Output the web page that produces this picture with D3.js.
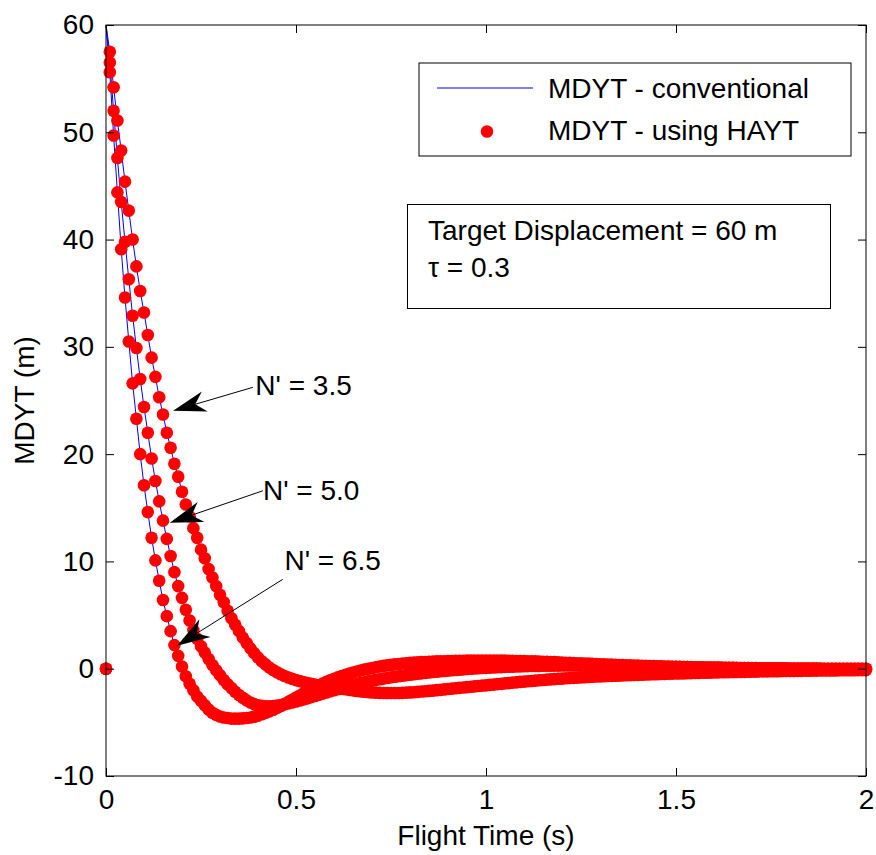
<!DOCTYPE html>
<html>
<head>
<meta charset="utf-8">
<script src="https://cdn.jsdelivr.net/npm/d3@7"></script>
<style>
  html, body { margin: 0; padding: 0; background: #ffffff; }
  svg { display: block; }
  text { font-family: "Liberation Sans", Arial, Helvetica, sans-serif; fill: #000; }
</style>
</head>
<body>
<svg id="chart" width="876" height="855"></svg>
<script>
// ---------------- DATA ----------------
const timeStep = 0.01;            // sampling interval of the simulations (s)
const xTicks = [0, 0.5, 1, 1.5, 2];
const xTickLabels = ["0", "0.5", "1", "1.5", "2"];
const yTicks = [-10, 0, 10, 20, 30, 40, 50, 60];
const yTickLabels = ["-10", "0", "10", "20", "30", "40", "50", "60"];
const initialMiss = 60;           // conventional miss distance at zero flight time

// MDYT using HAYT, N' = 3.5 (one value every 0.01 s, t = 0 .. 2 s)
const hayt35 = [0,
  57.5, 54.2, 51.1, 48.3, 45.4, 42.7, 40.0, 37.5, 35.2, 33.2,
  31.1, 29.0, 27.2, 25.3, 23.7, 22.0, 20.6, 19.1, 17.9, 16.5,
  15.3, 14.2, 13.1, 12.2, 11.1, 10.3, 9.3, 8.5, 7.7, 6.9,
  6.2, 5.4, 4.7, 4.1, 3.5, 2.9, 2.4, 1.9, 1.45, 1.05,
  0.7, 0.4, 0.12, -0.12, -0.33, -0.52, -0.68, -0.82, -0.95, -1.06,
  -1.16, -1.25, -1.33, -1.41, -1.48, -1.55, -1.61, -1.67, -1.72, -1.77,
  -1.82, -1.87, -1.92, -1.97, -2.02, -2.07, -2.11, -2.15, -2.18, -2.21,
  -2.23, -2.25, -2.26, -2.27, -2.27, -2.27, -2.26, -2.25, -2.23, -2.21,
  -2.19, -2.16, -2.13, -2.1, -2.07, -2.04, -2.0, -1.97, -1.93, -1.89,
  -1.86, -1.82, -1.79, -1.75, -1.72, -1.68, -1.65, -1.61, -1.58, -1.55,
  -1.51, -1.48, -1.44, -1.41, -1.37, -1.34, -1.3, -1.27, -1.23, -1.2,
  -1.17, -1.14, -1.11, -1.08, -1.05, -1.02, -0.99, -0.97, -0.94, -0.92,
  -0.89, -0.87, -0.85, -0.83, -0.81, -0.79, -0.77, -0.75, -0.73, -0.71,
  -0.7, -0.68, -0.67, -0.65, -0.64, -0.62, -0.61, -0.6, -0.58, -0.57,
  -0.56, -0.54, -0.53, -0.52, -0.51, -0.49, -0.48, -0.47, -0.46, -0.45,
  -0.44, -0.43, -0.42, -0.41, -0.4, -0.39, -0.38, -0.37, -0.36, -0.35,
  -0.34, -0.33, -0.33, -0.32, -0.31, -0.3, -0.3, -0.29, -0.28, -0.27,
  -0.27, -0.26, -0.25, -0.25, -0.24, -0.23, -0.23, -0.22, -0.22, -0.21,
  -0.21, -0.2, -0.2, -0.19, -0.19, -0.18, -0.18, -0.17, -0.17, -0.16,
  -0.16, -0.16, -0.15, -0.15, -0.14, -0.14, -0.14, -0.13, -0.13, -0.13];

// MDYT using HAYT, N' = 5.0
const hayt50 = [0,
  56.5, 52.0, 47.6, 43.5, 39.8, 36.3, 32.9, 29.9, 27.0, 24.4,
  22.0, 19.6, 17.5, 15.6, 13.8, 12.1, 10.5, 9.0, 7.7, 6.6,
  5.5, 4.5, 3.6, 2.8, 2.1, 1.5, 0.9, 0.35, -0.15, -0.6,
  -1.05, -1.45, -1.8, -2.15, -2.45, -2.7, -2.95, -3.15, -3.3, -3.4,
  -3.46, -3.5, -3.5, -3.48, -3.44, -3.38, -3.31, -3.23, -3.15, -3.06,
  -2.96, -2.86, -2.76, -2.65, -2.54, -2.43, -2.32, -2.21, -2.1, -2.0,
  -1.9, -1.8, -1.7, -1.6, -1.51, -1.42, -1.34, -1.26, -1.18, -1.11,
  -1.04, -0.98, -0.92, -0.86, -0.8, -0.75, -0.7, -0.65, -0.6, -0.56,
  -0.51, -0.47, -0.43, -0.39, -0.35, -0.31, -0.28, -0.24, -0.21, -0.18,
  -0.15, -0.12, -0.09, -0.06, -0.03, -0.01, 0.02, 0.04, 0.06, 0.08,
  0.1, 0.12, 0.14, 0.15, 0.17, 0.18, 0.19, 0.21, 0.22, 0.23,
  0.24, 0.25, 0.26, 0.26, 0.27, 0.28, 0.28, 0.29, 0.29, 0.3,
  0.3, 0.3, 0.3, 0.3, 0.3, 0.3, 0.3, 0.29, 0.29, 0.29,
  0.28, 0.28, 0.27, 0.27, 0.26, 0.26, 0.25, 0.25, 0.24, 0.24,
  0.23, 0.22, 0.22, 0.21, 0.2, 0.2, 0.19, 0.18, 0.18, 0.17,
  0.16, 0.16, 0.15, 0.14, 0.14, 0.13, 0.13, 0.12, 0.11, 0.11,
  0.1, 0.1, 0.09, 0.09, 0.08, 0.08, 0.07, 0.07, 0.06, 0.06,
  0.06, 0.05, 0.05, 0.04, 0.04, 0.04, 0.03, 0.03, 0.03, 0.02,
  0.02, 0.02, 0.02, 0.01, 0.01, 0.01, 0.01, 0.01, 0, 0,
  0, 0, 0, 0, 0, -0.01, -0.01, -0.01, -0.01, -0.01];

// MDYT using HAYT, N' = 6.5
const hayt65 = [0,
  55.6, 49.7, 44.4, 39.1, 34.6, 30.5, 26.6, 23.3, 20.0, 17.1,
  14.6, 12.2, 10.1, 8.2, 6.4, 4.9, 3.5, 2.2, 1.2, 0.2,
  -0.7, -1.4, -2.0, -2.6, -3.0, -3.4, -3.8, -4.1, -4.3, -4.45,
  -4.55, -4.6, -4.65, -4.65, -4.65, -4.63, -4.6, -4.55, -4.47, -4.37,
  -4.25, -4.12, -3.98, -3.82, -3.65, -3.47, -3.28, -3.09, -2.89, -2.69,
  -2.49, -2.29, -2.1, -1.91, -1.73, -1.56, -1.39, -1.23, -1.08, -0.94,
  -0.81, -0.69, -0.57, -0.46, -0.36, -0.26, -0.17, -0.08, 0.0, 0.07,
  0.14, 0.2, 0.26, 0.31, 0.36, 0.4, 0.44, 0.48, 0.51, 0.54,
  0.57, 0.59, 0.61, 0.63, 0.65, 0.66, 0.68, 0.69, 0.7, 0.71,
  0.72, 0.73, 0.74, 0.74, 0.75, 0.75, 0.75, 0.76, 0.76, 0.76,
  0.76, 0.76, 0.75, 0.75, 0.75, 0.74, 0.73, 0.72, 0.72, 0.71,
  0.7, 0.69, 0.68, 0.66, 0.65, 0.64, 0.62, 0.61, 0.59, 0.58,
  0.56, 0.55, 0.53, 0.51, 0.5, 0.48, 0.47, 0.45, 0.44, 0.42,
  0.41, 0.39, 0.38, 0.36, 0.35, 0.34, 0.32, 0.31, 0.3, 0.29,
  0.27, 0.26, 0.25, 0.24, 0.23, 0.22, 0.21, 0.2, 0.19, 0.18,
  0.17, 0.16, 0.15, 0.15, 0.14, 0.13, 0.12, 0.12, 0.11, 0.1,
  0.1, 0.09, 0.09, 0.08, 0.08, 0.07, 0.07, 0.06, 0.06, 0.05,
  0.05, 0.05, 0.04, 0.04, 0.04, 0.03, 0.03, 0.03, 0.02, 0.02,
  0.02, 0.02, 0.01, 0.01, 0.01, 0.01, 0.01, 0, 0, 0,
  0, 0, 0, 0, 0, -0.01, -0.01, -0.01, -0.01, -0.01];

// Conventional MDYT: starts from the full displacement and follows the same run
const conv35 = [initialMiss, ...hayt35.slice(1)];
const conv50 = [initialMiss, ...hayt50.slice(1)];
const conv65 = [initialMiss, ...hayt65.slice(1)];

const legendLabels = ["MDYT - conventional", "MDYT - using HAYT"];
const infoLines = ["Target Displacement = 60 m", "\u03C4 = 0.3"];
// label anchor (lt, lv), arrow tail (at, av), arrow tip (t, v) in data units
const annotations = [
  { label: "N' = 3.5", lt: 0.393, lv: 25.5, at: 0.3866, av: 26.23, t: 0.1766, v: 24.04 },
  { label: "N' = 5.0", lt: 0.413, lv: 15.72, at: 0.413, av: 16.59, t: 0.168, v: 13.61 },
  { label: "N' = 6.5", lt: 0.4698, lv: 9.2, at: 0.465, av: 8.33, t: 0.187, v: 2.14 }
];

// ---------------- CHART ----------------
const W = 876, H = 855;
const margin = { left: 106, right: 10, top: 25, bottom: 79 };
const svg = d3.select("#chart");

const x = d3.scaleLinear().domain([0, 2]).range([margin.left, W - margin.right]);
const y = d3.scaleLinear().domain([-10, 60]).range([H - margin.bottom, margin.top]);
const FS = 28;

svg.append("rect").attr("x", 0).attr("y", 0).attr("width", W).attr("height", H).attr("fill", "#fff");

svg.append("clipPath").attr("id", "plotclip").append("rect")
  .attr("x", x(0) - 8).attr("y", y(60) - 8)
  .attr("width", x(2) - x(0) + 16).attr("height", y(-10) - y(60) + 16);

const plot = svg.append("g").attr("clip-path", "url(#plotclip)");

const timeOf = i => i * timeStep;
const line = d3.line().x((d, i) => x(timeOf(i))).y(d => y(d));

// conventional (blue lines)
[conv35, conv50, conv65].forEach(series => {
  plot.append("path").datum(series)
    .attr("d", line)
    .attr("fill", "none")
    .attr("stroke", "#0000ff")
    .attr("stroke-width", 1);
});

// HAYT (red dots)
[hayt35, hayt50, hayt65].forEach(series => {
  plot.append("g").selectAll("circle").data(series).join("circle")
    .attr("cx", (d, i) => x(timeOf(i)))
    .attr("cy", d => y(d))
    .attr("r", 6.3)
    .attr("fill", "#ff0000");
});

// axes box
const x0 = x(0), x1 = x(2), y0 = y(-10), y1 = y(60);
svg.append("rect").attr("x", x0).attr("y", y1).attr("width", x1 - x0).attr("height", y0 - y1)
  .attr("fill", "none").attr("stroke", "#000").attr("stroke-width", 1);

// axes with inward ticks (bottom/top, left/right)
const tickLen = 8;
const axB = d3.axisBottom(x).tickValues(xTicks).tickSize(-tickLen).tickFormat((d, i) => xTickLabels[i]).tickPadding(13);
const gB = svg.append("g").attr("transform", `translate(0,${y0})`).call(axB);
const axT = d3.axisTop(x).tickValues(xTicks).tickSize(-tickLen).tickFormat("");
const gT = svg.append("g").attr("transform", `translate(0,${y1})`).call(axT);
const axL = d3.axisLeft(y).tickValues(yTicks).tickSize(-tickLen).tickFormat((d, i) => yTickLabels[i]).tickPadding(12);
const gL = svg.append("g").attr("transform", `translate(${x0},0)`).call(axL);
const axR = d3.axisRight(y).tickValues(yTicks).tickSize(-tickLen).tickFormat("");
const gR = svg.append("g").attr("transform", `translate(${x1},0)`).call(axR);
[gB, gT, gL, gR].forEach(g => {
  g.select(".domain").remove();
  g.selectAll("line").attr("stroke", "#000").attr("stroke-width", 1);
  g.selectAll("text").attr("font-size", FS).attr("font-family", "Liberation Sans, Arial, sans-serif").attr("fill", "#000");
});
gB.selectAll("text").attr("dy", "0.71em");

// axis labels
svg.append("text").attr("x", (x0 + x1) / 2).attr("y", 845)
  .attr("text-anchor", "middle").attr("font-size", FS).text("Flight Time (s)");
svg.append("text").attr("transform", `translate(34,${(y0 + y1) / 2}) rotate(-90)`)
  .attr("text-anchor", "middle").attr("font-size", FS).text("MDYT (m)");

// legend
const lg = svg.append("g");
lg.append("rect").attr("x", 419).attr("y", 63).attr("width", 432).attr("height", 93)
  .attr("fill", "#fff").attr("stroke", "#000").attr("stroke-width", 1);
lg.append("line").attr("x1", 437).attr("x2", 533).attr("y1", 88).attr("y2", 88)
  .attr("stroke", "#0000ff").attr("stroke-width", 1);
lg.append("circle").attr("cx", 487).attr("cy", 131.5).attr("r", 6.3).attr("fill", "#ff0000");
lg.append("text").attr("x", 548).attr("y", 98).attr("font-size", FS).text(legendLabels[0]);
lg.append("text").attr("x", 548).attr("y", 140).attr("font-size", FS).text(legendLabels[1]);

// info box
const ib = svg.append("g");
ib.append("rect").attr("x", 407.5).attr("y", 204.5).attr("width", 423).attr("height", 104)
  .attr("fill", "#fff").attr("stroke", "#000").attr("stroke-width", 1);
ib.append("text").attr("x", 428).attr("y", 240).attr("font-size", FS).text(infoLines[0]);
ib.append("text").attr("x", 428).attr("y", 277).attr("font-size", FS).text(infoLines[1]);

// annotations: arrow from label to curve
function arrow(tail, tip) {
  const dx = tip[0] - tail[0], dy = tip[1] - tail[1];
  const len = Math.hypot(dx, dy);
  const ux = dx / len, uy = dy / len, nx = -uy, ny = ux;
  const L = 33, Wd = 10.5, back = 0.7 * L;
  svg.append("line").attr("x1", tail[0]).attr("y1", tail[1])
    .attr("x2", tip[0] - ux * back).attr("y2", tip[1] - uy * back)
    .attr("stroke", "#000").attr("stroke-width", 1);
  const pts = [
    [tip[0], tip[1]],
    [tip[0] - ux * L + nx * Wd, tip[1] - uy * L + ny * Wd],
    [tip[0] - ux * back, tip[1] - uy * back],
    [tip[0] - ux * L - nx * Wd, tip[1] - uy * L - ny * Wd]
  ];
  svg.append("polygon").attr("points", pts.map(p => p.join(",")).join(" ")).attr("fill", "#000");
}
annotations.forEach(a => {
  arrow([x(a.at), y(a.av)], [x(a.t), y(a.v)]);
  svg.append("text").attr("x", x(a.lt)).attr("y", y(a.lv)).attr("font-size", FS).text(a.label);
});
</script>
</body>
</html>
